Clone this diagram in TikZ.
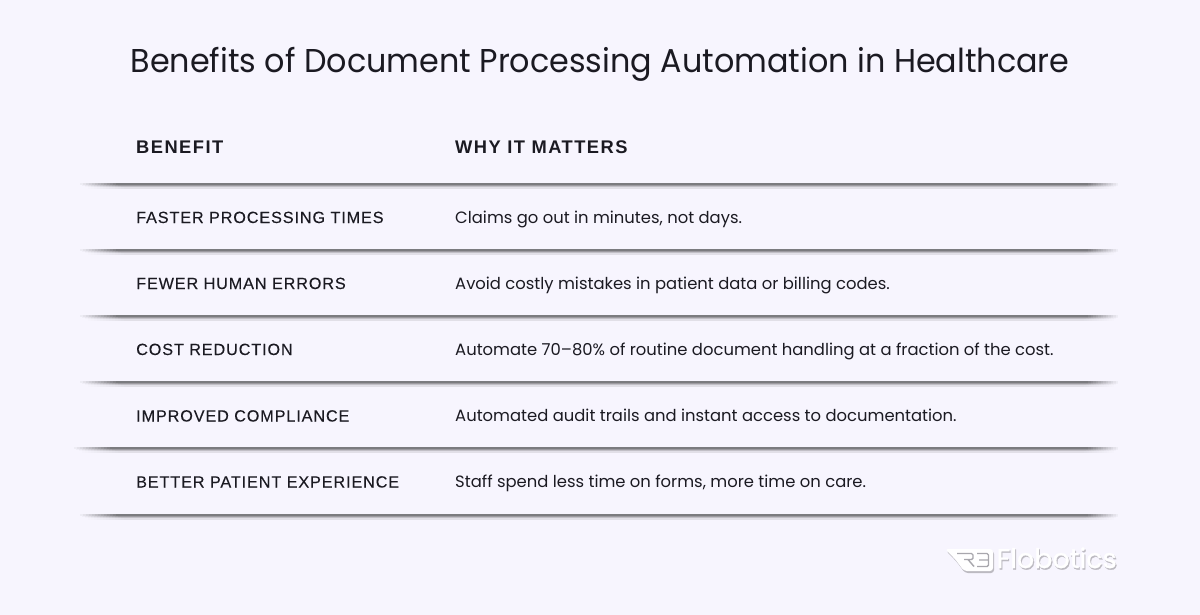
\documentclass[tikz,border=0pt]{standalone}
\usepackage{fontspec}
\setmainfont{Poppins}
\newfontfamily\rowfont[LetterSpace=5.5,FakeBold=0.12]{Liberation Sans}
\newfontfamily\headfont[LetterSpace=8]{Liberation Sans}
\newfontfamily\logofont[FakeBold=1.2]{Poppins}
\definecolor{bgc}{HTML}{F7F5FE}
\definecolor{inkc}{HTML}{1B1A22}
\colorlet{la}{bgc!50!black}
\colorlet{lb}{bgc!63!black}
\colorlet{lc}{bgc!78!black}
\colorlet{ld}{bgc!91!black}
\tikzset{
  titletxt/.style={anchor=base,text=inkc,font=\fontsize{33}{38}\selectfont,inner sep=0pt},
  headtxt/.style={anchor=base west,text=inkc,font=\headfont\bfseries\fontsize{18.3}{22}\selectfont,inner sep=0pt},
  rowtxt/.style={anchor=base west,text=inkc,font=\rowfont\fontsize{16.2}{20}\selectfont,inner sep=0pt},
  bodytxt/.style={anchor=base west,text=inkc,font=\fontsize{16.4}{20}\selectfont,inner sep=0pt},
  logotxt/.style={anchor=base west,inner sep=0pt,font=\logofont\fontsize{27}{30}\selectfont},
}
% #1 colour, #2 left, #3 right, #4 top, #5 bottom: stepped fade at both ends
\newcommand{\rulelayer}[5]{%
  \foreach \i in {1,...,12}{%
    \pgfmathsetmacro{\mixv}{\i*100/13}
    \fill[color=#1!\mixv!bgc] ({#2+(\i-1)*3},#4) rectangle ({#2+\i*3+.4},#5);
    \fill[color=#1!\mixv!bgc] ({#3-\i*2.5-.4},#4) rectangle ({#3-(\i-1)*2.5},#5);
  }
  \fill[color=#1] (#2+36,#4) rectangle (#3-30,#5);
}
\newcommand{\ruleline}[3]{%
  \rulelayer{ld}{#1+8}{#2-4}{#3+3}{#3+5}
  \rulelayer{lc}{#1+5}{#2-2}{#3+2}{#3+3}
  \rulelayer{lb}{#1+2}{#2}{#3+1}{#3+2}
  \rulelayer{la}{#1}{#2}{#3-1}{#3+1}
}
\begin{document}
\begin{tikzpicture}[x=1pt,y=-1pt]
\useasboundingbox (0,0) rectangle (1200,615);
\fill[bgc] (0,0) rectangle (1200,615);
\node[titletxt] (title) at (600,73) {\scalebox{.964}[1]{Benefits of Document Processing Automation in Healthcare}};
\node[headtxt] (h1) at (136,153.5) {BENEFIT};
\node[headtxt] (h2) at (455,153.5) {WHY IT MATTERS};
\node[rowtxt] (a1) at (136,223) {FASTER PROCESSING TIMES};
\node[rowtxt] (a2) at (136,289) {FEWER HUMAN ERRORS};
\node[rowtxt] (a3) at (136,355) {COST REDUCTION};
\node[rowtxt] (a4) at (136,421.5) {IMPROVED COMPLIANCE};
\node[rowtxt] (a5) at (136,487.5) {BETTER PATIENT EXPERIENCE};
\node[bodytxt] (b1) at (455,223) {Claims go out in minutes, not days.};
\node[bodytxt] (b2) at (455,289) {Avoid costly mistakes in patient data or billing codes.};
\node[bodytxt] (b3) at (455,355) {Automate 70–80\% of routine document handling at a fraction of the cost.};
\node[bodytxt] (b4) at (455,421.5) {Automated audit trails and instant access to documentation.};
\node[bodytxt] (b5) at (455,487.5) {Staff spend less time on forms, more time on care.};
\ruleline{80}{1118}{184}
\ruleline{80}{1118}{250}
\ruleline{80}{1118}{316}
\ruleline{80}{1118}{382}
\ruleline{74}{1118}{448}
\ruleline{80}{1118}{515}
% logo
\node[logotxt,text=bgc!76!black] (ls) at (997.5,569.5) {Flobotics};
\node[logotxt,text=white] (logo) at (996.5,568) {Flobotics};
\fill[bgc!76!black,rounded corners=3pt] (946,551) -- (994,551) -- (994,573) -- (965,573) -- (956,561) -- cycle;
\fill[white,rounded corners=3pt] (945,549) -- (993,549) -- (993,571) -- (964,571) -- (955,559) -- cycle;
\draw[bgc!68!black,line width=1.4pt,rounded corners=1.5pt] (957,553.5) -- (973,553.5) -- (973,559.5) -- (964,559.5) (968,559.5) -- (974,566.5)
  (977,553.5) -- (988.5,553.5) -- (988.5,566.5) -- (977,566.5) (979,560) -- (988,560);
\end{tikzpicture}
\end{document}
